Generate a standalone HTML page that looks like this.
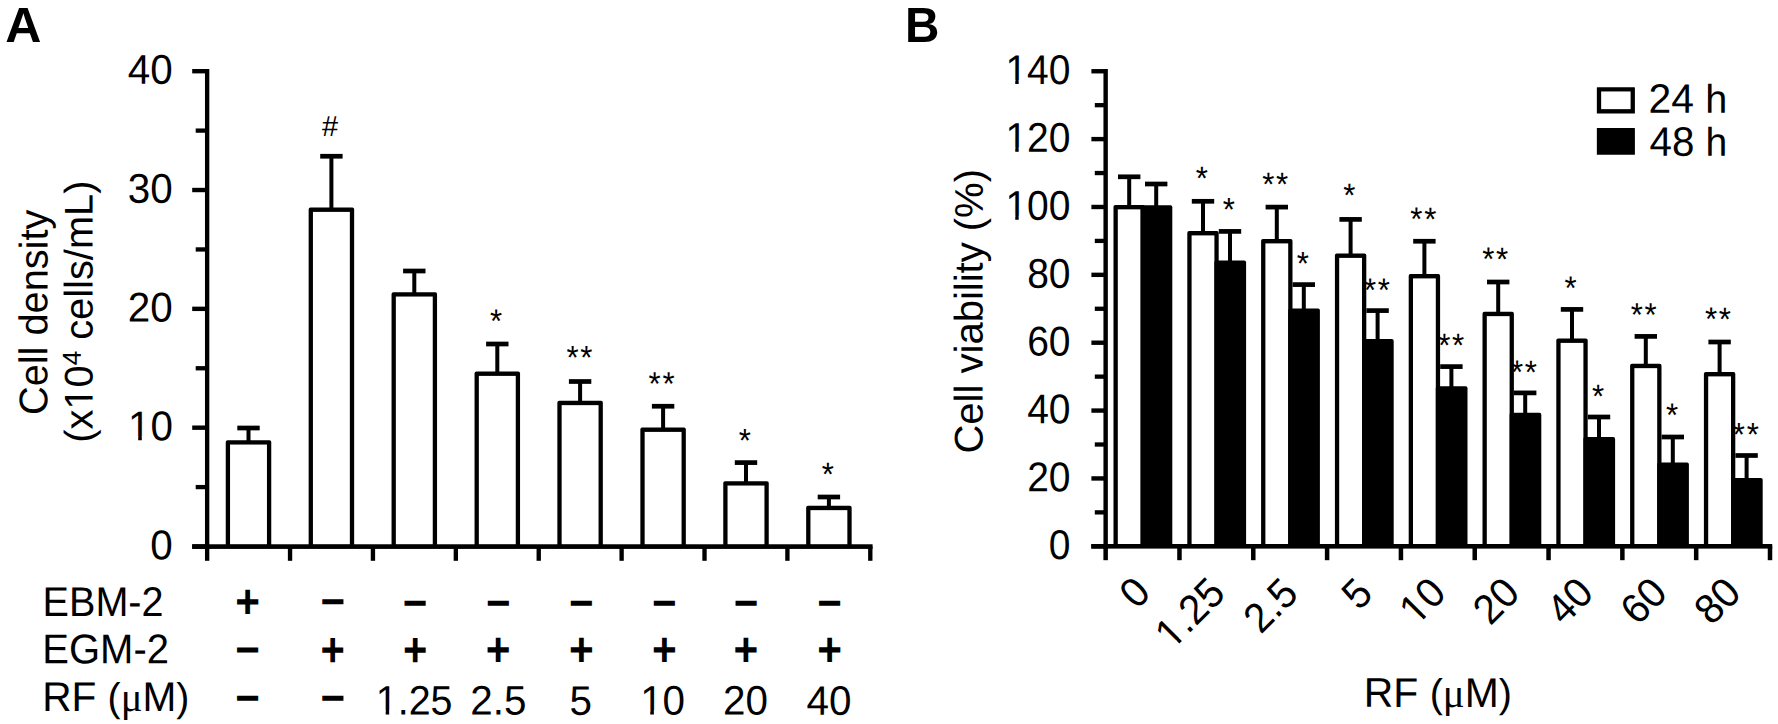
<!DOCTYPE html>
<html lang="en">
<head>
<meta charset="utf-8">
<title>Figure: cell density and cell viability</title>
<style>
html,body{margin:0;padding:0;background:#fff;}
body{width:1778px;height:724px;overflow:hidden;}
svg{display:block;}
svg text{font-family:"Liberation Sans", Arial, Helvetica, sans-serif;fill:#000;}
</style>
</head>
<body>
<svg width="1778" height="724" viewBox="0 0 1778 724" role="img" aria-label="Figure with two bar charts">
<rect x="0" y="0" width="1778" height="724" fill="#fff"/>
<g id="shapes">
<rect x="204.97" y="69.00" width="4.35" height="479.75" fill="#000"/>
<rect x="192.20" y="544.30" width="14.95" height="4.40" fill="#000"/>
<rect x="192.20" y="425.48" width="14.95" height="4.40" fill="#000"/>
<rect x="192.20" y="306.65" width="14.95" height="4.40" fill="#000"/>
<rect x="192.20" y="187.82" width="14.95" height="4.40" fill="#000"/>
<rect x="192.20" y="69.00" width="14.95" height="4.40" fill="#000"/>
<rect x="195.70" y="484.94" width="11.45" height="4.30" fill="#000"/>
<rect x="195.70" y="366.11" width="11.45" height="4.30" fill="#000"/>
<rect x="195.70" y="247.29" width="11.45" height="4.30" fill="#000"/>
<rect x="195.70" y="128.46" width="11.45" height="4.30" fill="#000"/>
<rect x="192.20" y="544.27" width="680.40" height="4.65" fill="#000"/>
<rect x="204.97" y="546.50" width="4.35" height="14.30" fill="#000"/>
<rect x="287.87" y="546.50" width="4.35" height="14.30" fill="#000"/>
<rect x="370.76" y="546.50" width="4.35" height="14.30" fill="#000"/>
<rect x="453.66" y="546.50" width="4.35" height="14.30" fill="#000"/>
<rect x="536.55" y="546.50" width="4.35" height="14.30" fill="#000"/>
<rect x="619.44" y="546.50" width="4.35" height="14.30" fill="#000"/>
<rect x="702.34" y="546.50" width="4.35" height="14.30" fill="#000"/>
<rect x="785.23" y="546.50" width="4.35" height="14.30" fill="#000"/>
<rect x="868.12" y="546.50" width="4.35" height="14.30" fill="#000"/>
<rect x="246.50" y="428.00" width="4.00" height="14.40" fill="#000"/>
<rect x="237.30" y="425.65" width="22.40" height="4.70" fill="#000"/>
<path d="M225.75 546.50V442.05Q225.75 440.25 227.55 440.25H269.45Q271.25 440.25 271.25 442.05V546.50Z" fill="#000"/>
<rect x="230.05" y="444.55" width="36.90" height="99.65" fill="#fff"/>
<rect x="329.40" y="156.25" width="4.00" height="53.50" fill="#000"/>
<rect x="320.20" y="153.90" width="22.40" height="4.70" fill="#000"/>
<path d="M308.65 546.50V209.40Q308.65 207.60 310.45 207.60H352.35Q354.15 207.60 354.15 209.40V546.50Z" fill="#000"/>
<rect x="312.95" y="211.90" width="36.90" height="332.30" fill="#fff"/>
<rect x="412.30" y="271.00" width="4.00" height="23.40" fill="#000"/>
<rect x="403.10" y="268.65" width="22.40" height="4.70" fill="#000"/>
<path d="M391.55 546.50V294.05Q391.55 292.25 393.35 292.25H435.25Q437.05 292.25 437.05 294.05V546.50Z" fill="#000"/>
<rect x="395.85" y="296.55" width="36.90" height="247.65" fill="#fff"/>
<rect x="495.30" y="344.00" width="4.00" height="29.75" fill="#000"/>
<rect x="486.10" y="341.65" width="22.40" height="4.70" fill="#000"/>
<path d="M474.55 546.50V373.40Q474.55 371.60 476.35 371.60H518.25Q520.05 371.60 520.05 373.40V546.50Z" fill="#000"/>
<rect x="478.85" y="375.90" width="36.90" height="168.30" fill="#fff"/>
<rect x="578.10" y="381.50" width="4.00" height="21.50" fill="#000"/>
<rect x="568.90" y="379.15" width="22.40" height="4.70" fill="#000"/>
<path d="M557.35 546.50V402.65Q557.35 400.85 559.15 400.85H601.05Q602.85 400.85 602.85 402.65V546.50Z" fill="#000"/>
<rect x="561.65" y="405.15" width="36.90" height="139.05" fill="#fff"/>
<rect x="661.10" y="406.25" width="4.00" height="23.50" fill="#000"/>
<rect x="651.90" y="403.90" width="22.40" height="4.70" fill="#000"/>
<path d="M640.35 546.50V429.40Q640.35 427.60 642.15 427.60H684.05Q685.85 427.60 685.85 429.40V546.50Z" fill="#000"/>
<rect x="644.65" y="431.90" width="36.90" height="112.30" fill="#fff"/>
<rect x="744.00" y="462.60" width="4.00" height="20.80" fill="#000"/>
<rect x="734.80" y="460.25" width="22.40" height="4.70" fill="#000"/>
<path d="M723.25 546.50V483.05Q723.25 481.25 725.05 481.25H766.95Q768.75 481.25 768.75 483.05V546.50Z" fill="#000"/>
<rect x="727.55" y="485.55" width="36.90" height="58.65" fill="#fff"/>
<rect x="826.90" y="497.00" width="4.00" height="11.00" fill="#000"/>
<rect x="817.70" y="494.65" width="22.40" height="4.70" fill="#000"/>
<path d="M806.15 546.50V507.65Q806.15 505.85 807.95 505.85H849.85Q851.65 505.85 851.65 507.65V546.50Z" fill="#000"/>
<rect x="810.45" y="510.15" width="36.90" height="34.05" fill="#fff"/>
<rect x="1103.45" y="69.00" width="4.40" height="479.60" fill="#000"/>
<rect x="1091.40" y="544.10" width="14.25" height="4.40" fill="#000"/>
<rect x="1091.40" y="476.24" width="14.25" height="4.40" fill="#000"/>
<rect x="1091.40" y="408.37" width="14.25" height="4.40" fill="#000"/>
<rect x="1091.40" y="340.51" width="14.25" height="4.40" fill="#000"/>
<rect x="1091.40" y="272.64" width="14.25" height="4.40" fill="#000"/>
<rect x="1091.40" y="204.78" width="14.25" height="4.40" fill="#000"/>
<rect x="1091.40" y="136.91" width="14.25" height="4.40" fill="#000"/>
<rect x="1091.40" y="69.05" width="14.25" height="4.40" fill="#000"/>
<rect x="1094.80" y="510.22" width="10.85" height="4.30" fill="#000"/>
<rect x="1094.80" y="442.35" width="10.85" height="4.30" fill="#000"/>
<rect x="1094.80" y="374.49" width="10.85" height="4.30" fill="#000"/>
<rect x="1094.80" y="306.62" width="10.85" height="4.30" fill="#000"/>
<rect x="1094.80" y="238.76" width="10.85" height="4.30" fill="#000"/>
<rect x="1094.80" y="170.90" width="10.85" height="4.30" fill="#000"/>
<rect x="1094.80" y="103.03" width="10.85" height="4.30" fill="#000"/>
<rect x="1091.25" y="544.00" width="681.00" height="4.60" fill="#000"/>
<rect x="1103.40" y="546.30" width="4.50" height="13.90" fill="#000"/>
<rect x="1177.22" y="546.30" width="4.50" height="13.90" fill="#000"/>
<rect x="1251.03" y="546.30" width="4.50" height="13.90" fill="#000"/>
<rect x="1324.85" y="546.30" width="4.50" height="13.90" fill="#000"/>
<rect x="1398.67" y="546.30" width="4.50" height="13.90" fill="#000"/>
<rect x="1472.48" y="546.30" width="4.50" height="13.90" fill="#000"/>
<rect x="1546.30" y="546.30" width="4.50" height="13.90" fill="#000"/>
<rect x="1620.12" y="546.30" width="4.50" height="13.90" fill="#000"/>
<rect x="1693.93" y="546.30" width="4.50" height="13.90" fill="#000"/>
<rect x="1767.75" y="546.30" width="4.50" height="13.90" fill="#000"/>
<rect x="1127.20" y="176.80" width="4.00" height="30.40" fill="#000"/>
<rect x="1118.00" y="174.45" width="22.40" height="4.70" fill="#000"/>
<path d="M1113.50 546.30V206.85Q1113.50 205.05 1115.30 205.05H1143.10Q1144.90 205.05 1144.90 206.85V546.30Z" fill="#000"/>
<rect x="1117.80" y="209.35" width="22.80" height="334.65" fill="#fff"/>
<rect x="1154.20" y="184.00" width="4.00" height="23.50" fill="#000"/>
<rect x="1145.00" y="181.65" width="22.40" height="4.70" fill="#000"/>
<path d="M1140.60 546.30V207.15Q1140.60 205.35 1142.40 205.35H1170.50Q1172.30 205.35 1172.30 207.15V546.30Z" fill="#000"/>
<rect x="1201.00" y="201.30" width="4.00" height="31.95" fill="#000"/>
<rect x="1191.80" y="198.95" width="22.40" height="4.70" fill="#000"/>
<path d="M1187.30 546.30V232.90Q1187.30 231.10 1189.10 231.10H1216.90Q1218.70 231.10 1218.70 232.90V546.30Z" fill="#000"/>
<rect x="1191.60" y="235.40" width="22.80" height="308.60" fill="#fff"/>
<rect x="1228.00" y="231.40" width="4.00" height="31.35" fill="#000"/>
<rect x="1218.80" y="229.05" width="22.40" height="4.70" fill="#000"/>
<path d="M1214.40 546.30V262.40Q1214.40 260.60 1216.20 260.60H1244.30Q1246.10 260.60 1246.10 262.40V546.30Z" fill="#000"/>
<rect x="1274.80" y="207.10" width="4.00" height="34.15" fill="#000"/>
<rect x="1265.60" y="204.75" width="22.40" height="4.70" fill="#000"/>
<path d="M1261.10 546.30V240.90Q1261.10 239.10 1262.90 239.10H1290.70Q1292.50 239.10 1292.50 240.90V546.30Z" fill="#000"/>
<rect x="1265.40" y="243.40" width="22.80" height="300.60" fill="#fff"/>
<rect x="1301.80" y="284.60" width="4.00" height="26.15" fill="#000"/>
<rect x="1292.60" y="282.25" width="22.40" height="4.70" fill="#000"/>
<path d="M1288.20 546.30V310.40Q1288.20 308.60 1290.00 308.60H1318.10Q1319.90 308.60 1319.90 310.40V546.30Z" fill="#000"/>
<rect x="1348.60" y="219.40" width="4.00" height="36.35" fill="#000"/>
<rect x="1339.40" y="217.05" width="22.40" height="4.70" fill="#000"/>
<path d="M1334.90 546.30V255.40Q1334.90 253.60 1336.70 253.60H1364.50Q1366.30 253.60 1366.30 255.40V546.30Z" fill="#000"/>
<rect x="1339.20" y="257.90" width="22.80" height="286.10" fill="#fff"/>
<rect x="1375.60" y="310.60" width="4.00" height="30.65" fill="#000"/>
<rect x="1366.40" y="308.25" width="22.40" height="4.70" fill="#000"/>
<path d="M1362.00 546.30V340.90Q1362.00 339.10 1363.80 339.10H1391.90Q1393.70 339.10 1393.70 340.90V546.30Z" fill="#000"/>
<rect x="1422.40" y="241.25" width="4.00" height="35.00" fill="#000"/>
<rect x="1413.20" y="238.90" width="22.40" height="4.70" fill="#000"/>
<path d="M1408.70 546.30V275.90Q1408.70 274.10 1410.50 274.10H1438.30Q1440.10 274.10 1440.10 275.90V546.30Z" fill="#000"/>
<rect x="1413.00" y="278.40" width="22.80" height="265.60" fill="#fff"/>
<rect x="1449.40" y="366.60" width="4.00" height="21.90" fill="#000"/>
<rect x="1440.20" y="364.25" width="22.40" height="4.70" fill="#000"/>
<path d="M1435.80 546.30V388.15Q1435.80 386.35 1437.60 386.35H1465.70Q1467.50 386.35 1467.50 388.15V546.30Z" fill="#000"/>
<rect x="1496.20" y="282.00" width="4.00" height="32.00" fill="#000"/>
<rect x="1487.00" y="279.65" width="22.40" height="4.70" fill="#000"/>
<path d="M1482.50 546.30V313.65Q1482.50 311.85 1484.30 311.85H1512.10Q1513.90 311.85 1513.90 313.65V546.30Z" fill="#000"/>
<rect x="1486.80" y="316.15" width="22.80" height="227.85" fill="#fff"/>
<rect x="1523.20" y="392.90" width="4.00" height="22.10" fill="#000"/>
<rect x="1514.00" y="390.55" width="22.40" height="4.70" fill="#000"/>
<path d="M1509.60 546.30V414.65Q1509.60 412.85 1511.40 412.85H1539.50Q1541.30 412.85 1541.30 414.65V546.30Z" fill="#000"/>
<rect x="1570.00" y="309.40" width="4.00" height="31.35" fill="#000"/>
<rect x="1560.80" y="307.05" width="22.40" height="4.70" fill="#000"/>
<path d="M1556.30 546.30V340.40Q1556.30 338.60 1558.10 338.60H1585.90Q1587.70 338.60 1587.70 340.40V546.30Z" fill="#000"/>
<rect x="1560.60" y="342.90" width="22.80" height="201.10" fill="#fff"/>
<rect x="1597.00" y="417.00" width="4.00" height="22.25" fill="#000"/>
<rect x="1587.80" y="414.65" width="22.40" height="4.70" fill="#000"/>
<path d="M1583.40 546.30V438.90Q1583.40 437.10 1585.20 437.10H1613.30Q1615.10 437.10 1615.10 438.90V546.30Z" fill="#000"/>
<rect x="1643.80" y="336.40" width="4.00" height="29.60" fill="#000"/>
<rect x="1634.60" y="334.05" width="22.40" height="4.70" fill="#000"/>
<path d="M1630.10 546.30V365.65Q1630.10 363.85 1631.90 363.85H1659.70Q1661.50 363.85 1661.50 365.65V546.30Z" fill="#000"/>
<rect x="1634.40" y="368.15" width="22.80" height="175.85" fill="#fff"/>
<rect x="1670.80" y="437.00" width="4.00" height="27.75" fill="#000"/>
<rect x="1661.60" y="434.65" width="22.40" height="4.70" fill="#000"/>
<path d="M1657.20 546.30V464.40Q1657.20 462.60 1659.00 462.60H1687.10Q1688.90 462.60 1688.90 464.40V546.30Z" fill="#000"/>
<rect x="1717.60" y="342.00" width="4.00" height="32.25" fill="#000"/>
<rect x="1708.40" y="339.65" width="22.40" height="4.70" fill="#000"/>
<path d="M1703.90 546.30V373.90Q1703.90 372.10 1705.70 372.10H1733.50Q1735.30 372.10 1735.30 373.90V546.30Z" fill="#000"/>
<rect x="1708.20" y="376.40" width="22.80" height="167.60" fill="#fff"/>
<rect x="1744.60" y="455.50" width="4.00" height="24.60" fill="#000"/>
<rect x="1735.40" y="453.15" width="22.40" height="4.70" fill="#000"/>
<path d="M1731.00 546.30V479.75Q1731.00 477.95 1732.80 477.95H1760.90Q1762.70 477.95 1762.70 479.75V546.30Z" fill="#000"/>
<path d="M1596.85 113.45V87.75Q1596.85 87.15 1597.45 87.15H1634.30Q1634.90 87.15 1634.90 87.75V113.45Z" fill="#000"/>
<rect x="1601.15" y="91.45" width="29.45" height="17.70" fill="#fff"/>
<path d="M1596.85 154.75V128.60Q1596.85 128.00 1597.45 128.00H1634.30Q1634.90 128.00 1634.90 128.60V154.75Z" fill="#000"/>
</g>
<g id="labels">
<text transform="translate(5.17 42.00) rotate(0.03) scale(1.0010 0.9914)" font-size="50" font-weight="bold">A</text>
<text transform="translate(172.73 83.80) rotate(0.03) scale(1.0100 1.0400)" font-size="40.0" text-anchor="end">40</text>
<text transform="translate(172.80 202.67) rotate(0.03) scale(1.0100 1.0400)" font-size="40.0" text-anchor="end">30</text>
<text transform="translate(172.73 321.42) rotate(0.03) scale(1.0100 1.0400)" font-size="40.0" text-anchor="end">20</text>
<text transform="translate(173.00 440.37) rotate(0.03) scale(1.0100 1.0400)" font-size="40.0" text-anchor="end">10</text>
<text transform="translate(172.80 559.23) rotate(0.03) scale(1.0100 1.0400)" font-size="40.0" text-anchor="end">0</text>
<text transform="translate(47.37 312.33) rotate(-89.97) scale(0.9930 1.0000)" font-size="40.0" text-anchor="middle">Cell density</text>
<text transform="translate(92.43 442.73) rotate(-89.97) scale(0.9956 1.0000)" font-size="40.0">(x10<tspan font-size="26" dy="-11.7">4</tspan><tspan dy="11.7"> cells/mL)</tspan></text>
<text transform="translate(42.60 615.90) rotate(0.03) scale(0.9897 1.0400)" font-size="40.0">EBM-2</text>
<text transform="translate(42.30 663.23) rotate(0.03) scale(1.0000 1.0400)" font-size="40.0">EGM-2</text>
<text transform="translate(42.17 711.00) rotate(0.03) scale(1.0156 1.0400)" font-size="40.0">RF <tspan font-size="38.6">(</tspan><tspan font-family='"Liberation Serif", "DejaVu Serif", serif'>μ</tspan>M<tspan font-size="38.6">)</tspan></text>
<text transform="translate(235.37 617.63) rotate(0.03) scale(1.0080 1.1333)" font-size="42" font-weight="bold">+</text>
<text transform="translate(320.47 616.30) rotate(0.03) scale(1.0033 1.0400)" font-size="42" font-weight="bold">−</text>
<text transform="translate(402.87 617.70) rotate(0.03) scale(1.0033 1.0400)" font-size="42" font-weight="bold">−</text>
<text transform="translate(485.97 617.70) rotate(0.03) scale(1.0033 1.0400)" font-size="42" font-weight="bold">−</text>
<text transform="translate(569.07 617.70) rotate(0.03) scale(1.0033 1.0400)" font-size="42" font-weight="bold">−</text>
<text transform="translate(652.07 617.70) rotate(0.03) scale(1.0033 1.0400)" font-size="42" font-weight="bold">−</text>
<text transform="translate(733.67 617.70) rotate(0.03) scale(1.0033 1.0400)" font-size="42" font-weight="bold">−</text>
<text transform="translate(817.27 617.70) rotate(0.03) scale(1.0033 1.0400)" font-size="42" font-weight="bold">−</text>
<text transform="translate(235.37 664.50) rotate(0.03) scale(1.0033 1.0400)" font-size="42" font-weight="bold">−</text>
<text transform="translate(320.57 665.83) rotate(0.03) scale(0.9923 1.1347)" font-size="42" font-weight="bold">+</text>
<text transform="translate(402.97 665.83) rotate(0.03) scale(0.9923 1.1347)" font-size="42" font-weight="bold">+</text>
<text transform="translate(485.87 665.83) rotate(0.03) scale(1.0080 1.1347)" font-size="42" font-weight="bold">+</text>
<text transform="translate(569.03 665.83) rotate(0.03) scale(1.0080 1.1347)" font-size="42" font-weight="bold">+</text>
<text transform="translate(652.03 665.83) rotate(0.03) scale(1.0080 1.1347)" font-size="42" font-weight="bold">+</text>
<text transform="translate(733.50 665.83) rotate(0.03) scale(1.0080 1.1347)" font-size="42" font-weight="bold">+</text>
<text transform="translate(817.13 665.83) rotate(0.03) scale(1.0080 1.1347)" font-size="42" font-weight="bold">+</text>
<text transform="translate(235.37 712.80) rotate(0.03) scale(1.0033 1.0400)" font-size="42" font-weight="bold">−</text>
<text transform="translate(320.40 712.73) rotate(0.03) scale(1.0033 1.0400)" font-size="42" font-weight="bold">−</text>
<text transform="translate(452.47 714.63) rotate(0.03) scale(0.9850 1.0300)" font-size="40.0" text-anchor="end">1.25</text>
<text transform="translate(526.47 714.63) rotate(0.03) scale(1.0100 1.0300)" font-size="40.0" text-anchor="end">2.5</text>
<text transform="translate(591.87 714.87) rotate(0.03) scale(1.0100 1.0300)" font-size="40.0" text-anchor="end">5</text>
<text transform="translate(685.07 714.63) rotate(0.03) scale(1.0100 1.0300)" font-size="40.0" text-anchor="end">10</text>
<text transform="translate(767.87 714.63) rotate(0.03) scale(1.0100 1.0300)" font-size="40.0" text-anchor="end">20</text>
<text transform="translate(851.47 714.87) rotate(0.03) scale(1.0100 1.0300)" font-size="40.0" text-anchor="end">40</text>
<text transform="translate(322.00 136.00) rotate(0.03)" font-size="29">#</text>
<text transform="translate(489.92 332.20) rotate(0.03) scale(0.9450 1.0000)" font-size="33.0">*</text>
<text transform="translate(566.42 368.63) rotate(0.03) scale(0.9450 1.0000)" font-size="33.0" dx="0 1.76">**</text>
<text transform="translate(648.58 394.98) rotate(0.03) scale(0.9450 1.0000)" font-size="33.0" dx="0 1.76">**</text>
<text transform="translate(738.67 451.70) rotate(0.03) scale(0.9450 1.0000)" font-size="33.0">*</text>
<text transform="translate(821.67 485.45) rotate(0.03) scale(0.9450 1.0000)" font-size="33.0">*</text>
<text transform="translate(1648.54 112.73) rotate(0.03) scale(1.0208 1.0300)" font-size="40.0">24 <tspan font-size="38.8">h</tspan></text>
<text transform="translate(1649.46 155.67) rotate(0.03) scale(1.0079 1.0300)" font-size="40.0">48 <tspan font-size="38.8">h</tspan></text>
<text transform="translate(905.08 42.00) rotate(0.03) scale(0.9527 0.9914)" font-size="50" font-weight="bold">B</text>
<text transform="translate(1070.50 559.10) rotate(0.03) scale(0.9750 1.0400)" font-size="40.0" text-anchor="end">0</text>
<text transform="translate(1070.50 491.19) rotate(0.03) scale(0.9750 1.0400)" font-size="40.0" text-anchor="end">20</text>
<text transform="translate(1070.50 423.25) rotate(0.03) scale(0.9750 1.0400)" font-size="40.0" text-anchor="end">40</text>
<text transform="translate(1070.50 355.51) rotate(0.03) scale(0.9750 1.0400)" font-size="40.0" text-anchor="end">60</text>
<text transform="translate(1070.50 287.67) rotate(0.03) scale(0.9750 1.0400)" font-size="40.0" text-anchor="end">80</text>
<text transform="translate(1070.50 219.80) rotate(0.03) scale(0.9750 1.0400)" font-size="40.0" text-anchor="end">100</text>
<text transform="translate(1070.50 151.66) rotate(0.03) scale(0.9750 1.0400)" font-size="40.0" text-anchor="end">120</text>
<text transform="translate(1070.50 83.95) rotate(0.03) scale(0.9750 1.0400)" font-size="40.0" text-anchor="end">140</text>
<text transform="translate(982.60 311.27) rotate(-89.97)" font-size="40.0" text-anchor="middle">Cell viability (%)</text>
<text transform="translate(1363.83 706.87) rotate(0.03) scale(1.0216 1.0400)" font-size="40.0">RF <tspan font-size="38.6">(</tspan><tspan font-family='"Liberation Serif", "DejaVu Serif", serif'>μ</tspan>M<tspan font-size="38.6">)</tspan></text>
<text transform="translate(1152.50 594.42) rotate(-45) scale(1.0000 1.0400)" font-size="40.0" text-anchor="end">0</text>
<text transform="translate(1227.17 595.37) rotate(-45) scale(1.0000 1.0400)" font-size="40.0" text-anchor="end">1.25</text>
<text transform="translate(1300.17 595.67) rotate(-45) scale(1.0000 1.0400)" font-size="40.0" text-anchor="end">2.5</text>
<text transform="translate(1374.67 595.67) rotate(-45) scale(1.0000 1.0400)" font-size="40.0" text-anchor="end">5</text>
<text transform="translate(1448.00 595.00) rotate(-45) scale(1.0000 1.0400)" font-size="40.0" text-anchor="end">10</text>
<text transform="translate(1521.75 595.08) rotate(-45) scale(1.0000 1.0400)" font-size="40.0" text-anchor="end">20</text>
<text transform="translate(1595.50 594.92) rotate(-45) scale(1.0000 1.0400)" font-size="40.0" text-anchor="end">40</text>
<text transform="translate(1669.33 595.00) rotate(-45) scale(1.0000 1.0400)" font-size="40.0" text-anchor="end">60</text>
<text transform="translate(1743.00 595.00) rotate(-45) scale(1.0000 1.0400)" font-size="40.0" text-anchor="end">80</text>
<text transform="translate(1195.73 189.50) rotate(0.03) scale(0.9450 1.0000)" font-size="33.0">*</text>
<text transform="translate(1262.13 195.58) rotate(0.03) scale(0.9450 1.0000)" font-size="33.0" dx="0 1.76">**</text>
<text transform="translate(1343.25 206.45) rotate(0.03) scale(0.9450 1.0000)" font-size="33.0">*</text>
<text transform="translate(1410.33 230.37) rotate(0.03) scale(0.9450 1.0000)" font-size="33.0" dx="0 1.76">**</text>
<text transform="translate(1482.17 270.37) rotate(0.03) scale(0.9450 1.0000)" font-size="33.0" dx="0 1.76">**</text>
<text transform="translate(1564.58 299.18) rotate(0.03) scale(0.9450 1.0000)" font-size="33.0">*</text>
<text transform="translate(1630.67 325.95) rotate(0.03) scale(0.9450 1.0000)" font-size="33.0" dx="0 1.76">**</text>
<text transform="translate(1705.00 330.37) rotate(0.03) scale(0.9450 1.0000)" font-size="33.0" dx="0 1.76">**</text>
<text transform="translate(1222.83 220.70) rotate(0.03) scale(0.9450 1.0000)" font-size="33.0">*</text>
<text transform="translate(1296.67 274.70) rotate(0.03) scale(0.9450 1.0000)" font-size="33.0">*</text>
<text transform="translate(1364.00 301.18) rotate(0.03) scale(0.9450 1.0000)" font-size="33.0" dx="0 1.76">**</text>
<text transform="translate(1438.21 356.42) rotate(0.03) scale(0.9450 1.0000)" font-size="33.0" dx="0 1.76">**</text>
<text transform="translate(1511.00 383.37) rotate(0.03) scale(0.9450 1.0000)" font-size="33.0" dx="0 1.76">**</text>
<text transform="translate(1592.00 407.42) rotate(0.03) scale(0.9450 1.0000)" font-size="33.0">*</text>
<text transform="translate(1665.92 426.37) rotate(0.03) scale(0.9450 1.0000)" font-size="33.0">*</text>
<text transform="translate(1732.83 445.70) rotate(0.03) scale(0.9450 1.0000)" font-size="33.0" dx="0 1.76">**</text>
</g>
<g id="digit-trim">
<g transform="translate(173.00 440.37) rotate(0.03) scale(1.0100 1.0400)" fill="#fff"><rect x="-42.35" y="-3.89" width="7.91" height="4.79"/><rect x="-30.90" y="-3.89" width="7.60" height="4.79"/></g>
<g transform="translate(92.43 442.73) rotate(-89.97) scale(0.9956 1.0000)" fill="#fff"><rect x="35.47" y="-3.89" width="7.91" height="4.79"/><rect x="46.91" y="-3.89" width="7.60" height="4.79"/></g>
<g transform="translate(452.47 714.63) rotate(0.03) scale(0.9850 1.0300)" fill="#fff"><rect x="-75.70" y="-3.89" width="7.91" height="4.79"/><rect x="-64.26" y="-3.89" width="7.60" height="4.79"/></g>
<g transform="translate(685.07 714.63) rotate(0.03) scale(1.0100 1.0300)" fill="#fff"><rect x="-42.35" y="-3.89" width="7.91" height="4.79"/><rect x="-30.90" y="-3.89" width="7.60" height="4.79"/></g>
<g transform="translate(1070.50 219.80) rotate(0.03) scale(0.9750 1.0400)" fill="#fff"><rect x="-64.59" y="-3.89" width="7.91" height="4.79"/><rect x="-53.14" y="-3.89" width="7.60" height="4.79"/></g>
<g transform="translate(1070.50 151.66) rotate(0.03) scale(0.9750 1.0400)" fill="#fff"><rect x="-64.59" y="-3.89" width="7.91" height="4.79"/><rect x="-53.14" y="-3.89" width="7.60" height="4.79"/></g>
<g transform="translate(1070.50 83.95) rotate(0.03) scale(0.9750 1.0400)" fill="#fff"><rect x="-64.59" y="-3.89" width="7.91" height="4.79"/><rect x="-53.14" y="-3.89" width="7.60" height="4.79"/></g>
<g transform="translate(1227.17 595.37) rotate(-45) scale(1.0000 1.0400)" fill="#fff"><rect x="-75.70" y="-3.89" width="7.91" height="4.79"/><rect x="-64.26" y="-3.89" width="7.60" height="4.79"/></g>
<g transform="translate(1448.00 595.00) rotate(-45) scale(1.0000 1.0400)" fill="#fff"><rect x="-42.35" y="-3.89" width="7.91" height="4.79"/><rect x="-30.90" y="-3.89" width="7.60" height="4.79"/></g>
</g>
</svg>
</body>
</html>
